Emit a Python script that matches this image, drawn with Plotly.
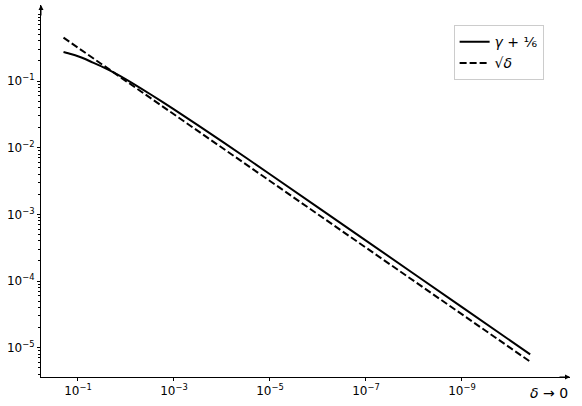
import plotly.graph_objects as go

# values (log-log, delta decreasing to the right)
delta = [0.2, 0.141, 0.1, 0.0708, 0.0501, 0.0316, 0.0178, 0.01, 0.00316, 0.001,
         1e-4, 1e-5, 1e-7, 1e-9, 3.8e-11]
gamma_sixth = [0.2723, 0.2541, 0.2355, 0.2138, 0.1905, 0.1640, 0.1334, 0.1059, 0.0638, 0.0376,
               0.01245, 4.0e-3, 4.04e-4, 4.05e-5, 7.95e-6]

delta_ref = [0.2, 1e-3, 1e-6, 3.8e-11]
sqrt_delta = [0.447, 0.0316, 1e-3, 6.16e-6]

x_ticks = [1e-1, 1e-3, 1e-5, 1e-7, 1e-9]
x_labels = ["10<sup>\u22121</sup>", "10<sup>\u22123</sup>", "10<sup>\u22125</sup>",
            "10<sup>\u22127</sup>", "10<sup>\u22129</sup>"]
y_ticks = [1e-1, 1e-2, 1e-3, 1e-4, 1e-5]
y_labels = ["10<sup>\u22121</sup>", "10<sup>\u22122</sup>", "10<sup>\u22123</sup>",
            "10<sup>\u22124</sup>", "10<sup>\u22125</sup>"]

fig = go.Figure()
fig.add_trace(go.Scatter(x=delta, y=gamma_sixth, mode="lines",
                         name="<i>\u03b3</i> + \u2159",
                         line=dict(color="black", width=2, shape="spline", smoothing=0.6)))
fig.add_trace(go.Scatter(x=delta_ref, y=sqrt_delta, mode="lines",
                         name="\u221a<i>\u03b4</i>",
                         line=dict(color="black", width=2, dash="7px,3px")))

fig.update_layout(
    width=582, height=406,
    margin=dict(l=41, r=12, t=5, b=29),
    paper_bgcolor="white", plot_bgcolor="white",
    font=dict(family="DejaVu Sans", size=12, color="black"),
    showlegend=True,
    legend=dict(x=0.78, y=0.946, xanchor="left", yanchor="top",
                bordercolor="#cccccc", borderwidth=1, bgcolor="white",
                font=dict(size=14), tracegroupgap=0),
)
fig.update_xaxes(type="log", range=[-0.23, -11.25], showline=True, linecolor="black", linewidth=1,
                 showgrid=False, zeroline=False, ticks="outside", ticklen=3, tickcolor="black",
                 tickvals=x_ticks, ticktext=x_labels, automargin=False)
fig.update_yaxes(type="log", range=[-5.44, 0.14], showline=True, linecolor="black", linewidth=1,
                 showgrid=False, zeroline=False, ticks="outside", ticklen=3, tickcolor="black",
                 tickvals=y_ticks, ticktext=y_labels, automargin=False,
                 minor=dict(ticks="outside", ticklen=2, tickcolor="black", dtick="D1", showgrid=False))

# axis arrows
fig.add_annotation(xref="paper", yref="paper", x=0, y=1.0, ax=0, ay=12, text="",
                   showarrow=True, arrowhead=2, arrowsize=1, arrowwidth=1, arrowcolor="black")
fig.add_annotation(xref="paper", yref="paper", x=1.0, y=0, ax=-12, ay=0, text="",
                   showarrow=True, arrowhead=2, arrowsize=1, arrowwidth=1, arrowcolor="black")
fig.add_annotation(xref="paper", yref="paper", x=1.0, y=-0.015, xanchor="right", yanchor="top",
                   text="<i>\u03b4</i> \u2192 0", showarrow=False, font=dict(size=14))

fig.write_html("out.html", config={"displayModeBar": False},
               post_script="document.body.style.margin='0';")
